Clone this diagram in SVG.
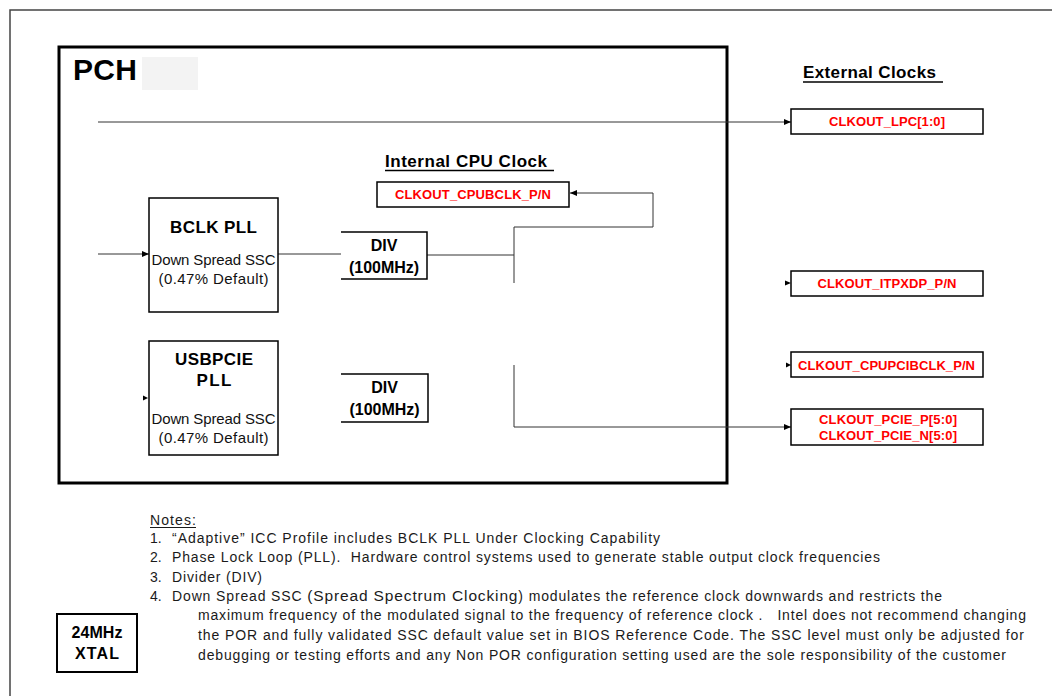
<svg xmlns="http://www.w3.org/2000/svg" width="1052" height="696" viewBox="0 0 1052 696">
<style>
text{font-family:"Liberation Sans",Arial,Helvetica,sans-serif}
.box{fill:#fff;stroke:#000;stroke-width:1.5}
.conn{fill:none;stroke:#333;stroke-width:1}
.red{font-weight:bold;fill:#ff0000;text-anchor:middle;font-size:13px}
.bold{font-weight:bold;fill:#000;text-anchor:middle}
.plain{fill:#111;text-anchor:middle;font-size:15px}
.note{font-size:14px;fill:#1a1a1a;white-space:pre}
.head{font-weight:bold;font-size:17px;fill:#000}
</style>
<defs>
<marker id="ah" markerUnits="userSpaceOnUse" markerWidth="7" markerHeight="6" refX="7" refY="3" orient="auto">
<path d="M0,0 L7,3 L0,6 z" fill="#000"/>
</marker>
</defs>
<rect width="1052" height="696" fill="#fff"/>
<g id="frame">
<path d="M10,696 V10 H1052" fill="none" stroke="#444" stroke-width="1.5"/>
</g>
<g id="pch">
<rect x="59" y="47" width="668" height="436" fill="none" stroke="#000" stroke-width="3"/>
<rect x="142" y="57" width="56" height="33" fill="#f3f3f3"/>
<text x="73" y="80" font-size="30" font-weight="bold" textLength="64">PCH</text>
</g>
<g id="external-clocks-title">
<text class="head" x="803" y="78" textLength="133">External Clocks</text>
<line x1="803" y1="82" x2="943" y2="82" stroke="#000" stroke-width="1.5"/>
</g>
<g id="internal-cpu-clock-title">
<text class="head" x="385" y="167" textLength="162">Internal CPU Clock</text>
<line x1="385" y1="170.5" x2="554" y2="170.5" stroke="#000" stroke-width="1.5"/>
</g>
<g id="connectors">
<line class="conn" x1="98" y1="122" x2="791" y2="122" marker-end="url(#ah)"/>
<line class="conn" x1="98" y1="254" x2="149" y2="254" marker-end="url(#ah)"/>
<line class="conn" x1="278" y1="254" x2="341" y2="254"/>
<path class="conn" d="M427,255 H514"/>
<path class="conn" d="M514,283 V227 H653 V193 H570" marker-end="url(#ah)"/>
<path class="conn" d="M514,365 V427 H791" marker-end="url(#ah)"/>
<polygon points="143,395.5 148,398 143,400.5" fill="#000"/>
<polygon points="785,280.5 791,283 785,285.5" fill="#000"/>
<polygon points="786,362.5 791,365 786,367.5" fill="#000"/>
</g>
<g id="bclk-pll">
<rect class="box" x="149" y="198" width="129" height="114"/>
<text class="bold" x="213.5" y="233" font-size="17" textLength="87">BCLK PLL</text>
<text class="plain" x="213.5" y="265" textLength="124">Down Spread SSC</text>
<text class="plain" x="213.5" y="284" textLength="110">(0.47% Default)</text>
</g>
<g id="usbpcie-pll">
<rect class="box" x="149" y="341" width="129" height="114"/>
<text class="bold" x="214" y="365" font-size="17" textLength="78">USBPCIE</text>
<text class="bold" x="214" y="386" font-size="17" textLength="35">PLL</text>
<text class="plain" x="213.5" y="424" textLength="124">Down Spread SSC</text>
<text class="plain" x="213.5" y="443" textLength="110">(0.47% Default)</text>
</g>
<g id="div-1">
<path class="box" fill="none" d="M341,232 H427 V279 H341"/>
<text class="bold" x="384" y="251" font-size="16">DIV</text>
<text class="bold" x="384" y="273" font-size="16" textLength="70">(100MHz)</text>
</g>
<g id="div-2">
<path class="box" fill="none" d="M341,374 H428 V422 H341"/>
<text class="bold" x="384.5" y="393" font-size="16">DIV</text>
<text class="bold" x="384.5" y="415" font-size="16" textLength="70">(100MHz)</text>
</g>
<g id="clkout-cpubclk">
<rect class="box" x="377" y="182" width="192" height="25"/>
<text class="red" x="473" y="199" textLength="156">CLKOUT_CPUBCLK_P/N</text>
</g>
<g id="clkout-lpc">
<rect class="box" x="791" y="109" width="192" height="25"/>
<text class="red" x="887" y="126" textLength="116">CLKOUT_LPC[1:0]</text>
</g>
<g id="clkout-itpxdp">
<rect class="box" x="791" y="271" width="192" height="25"/>
<text class="red" x="887" y="288" textLength="139">CLKOUT_ITPXDP_P/N</text>
</g>
<g id="clkout-cpupcibclk">
<rect class="box" x="791" y="352" width="192" height="25"/>
<text class="red" x="886.5" y="370" font-size="14" textLength="177">CLKOUT_CPUPCIBCLK_P/N</text>
</g>
<g id="clkout-pcie">
<rect class="box" x="791" y="409" width="192" height="36"/>
<text class="red" x="888" y="424" textLength="138">CLKOUT_PCIE_P[5:0]</text>
<text class="red" x="888" y="440" textLength="138">CLKOUT_PCIE_N[5:0]</text>
</g>
<g id="xtal">
<rect x="57" y="614" width="80" height="58" fill="#fff" stroke="#000" stroke-width="2"/>
<text class="bold" x="97" y="638" font-size="16" textLength="51">24MHz</text>
<text class="bold" x="97" y="659" font-size="16" textLength="44">XTAL</text>
</g>
<g id="notes">
<text class="note" x="150" y="525" textLength="46">Notes:</text>
<line x1="150" y1="527.5" x2="196" y2="527.5" stroke="#1a1a1a" stroke-width="1"/>
<text class="note" x="150" y="543">1.</text>
<text class="note" x="172" y="543" textLength="488">“Adaptive” ICC Profile includes BCLK PLL Under Clocking Capability</text>
<text class="note" x="150" y="562">2.</text>
<text class="note" x="172" y="562" textLength="708">Phase Lock Loop (PLL).  Hardware control systems used to generate stable output clock frequencies</text>
<text class="note" x="150" y="582">3.</text>
<text class="note" x="172" y="582" textLength="90">Divider (DIV)</text>
<text class="note" x="150" y="601">4.</text>
<text class="note" x="172" y="601" textLength="770">Down Spread SSC <tspan font-size="15.5">(Spread Spectrum Clocking</tspan>) modulates the reference clock downwards and restricts the</text>
<text class="note" x="198" y="620" textLength="828">maximum frequency of the modulated signal to the frequency of reference clock .   Intel does not recommend changing</text>
<text class="note" x="198" y="640" textLength="826">the POR and fully validated SSC default value set in BIOS Reference Code. The SSC level must only be adjusted for</text>
<text class="note" x="198" y="660" textLength="808">debugging or testing efforts and any Non POR configuration setting used are the sole responsibility of the customer</text>
</g>
</svg>
